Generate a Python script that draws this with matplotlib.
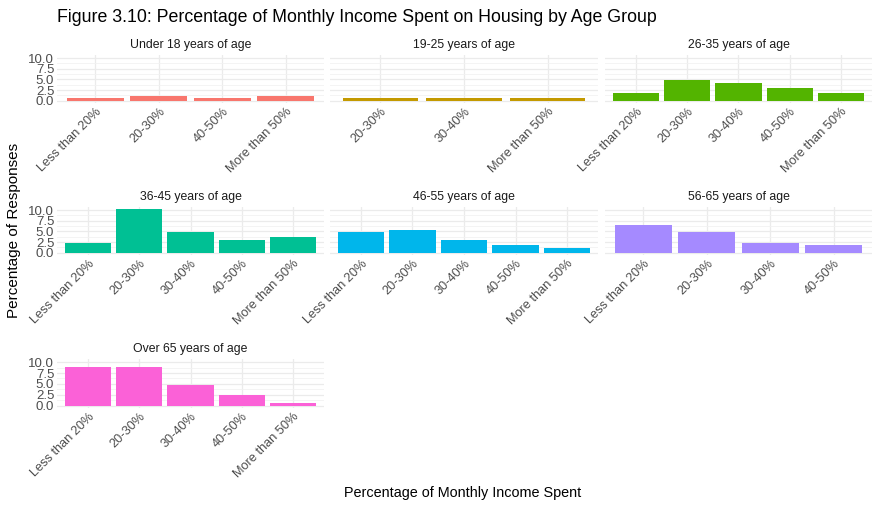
import matplotlib
matplotlib.use("Agg")
import matplotlib.pyplot as plt
import numpy as np

plt.rcParams['font.family'] = ['Liberation Sans', 'DejaVu Sans']

groups = ['Under 18 years of age', '19-25 years of age', '26-35 years of age',
          '36-45 years of age', '46-55 years of age', '56-65 years of age',
          'Over 65 years of age']
categories = [
    ['Less than 20%', '20-30%', '40-50%', 'More than 50%'],
    ['20-30%', '30-40%', 'More than 50%'],
    ['Less than 20%', '20-30%', '30-40%', '40-50%', 'More than 50%'],
    ['Less than 20%', '20-30%', '30-40%', '40-50%', 'More than 50%'],
    ['Less than 20%', '20-30%', '30-40%', '40-50%', 'More than 50%'],
    ['Less than 20%', '20-30%', '30-40%', '40-50%'],
    ['Less than 20%', '20-30%', '30-40%', '40-50%', 'More than 50%'],
]
values = [
    [0.6, 1.2, 0.6, 1.2],
    [0.6, 0.6, 0.6],
    [1.8, 4.8, 4.2, 3.0, 1.8],
    [2.4, 10.2, 4.8, 3.0, 3.6],
    [4.8, 5.4, 3.0, 1.8, 1.2],
    [6.5, 4.8, 2.4, 1.8],
    [8.8, 8.8, 4.8, 2.5, 0.7],
]
colors = ['#F8766D', '#C49A00', '#53B400', '#00C094', '#00B6EB', '#A58AFF', '#FB61D7']

W, H = 879, 508
fig = plt.figure(figsize=(W / 100, H / 100), dpi=100)

# panel boxes in pixels: (left, right), (top, bottom)
cols = [(57, 324), (330, 598), (605, 872)]
rows = [(55, 103), (207, 255), (359, 408)]

ymax = max(max(v) for v in values)
ylim = (-0.05 * ymax, ymax * 1.05)

for i, (g, cats, vals, c) in enumerate(zip(groups, categories, values, colors)):
    r, k = divmod(i, 3)
    (x0, x1), (y0, y1) = cols[k], rows[r]
    ax = fig.add_axes([x0 / W, 1 - y1 / H, (x1 - x0) / W, (y1 - y0) / H])
    x = np.arange(len(cats))
    ax.bar(x, vals, width=0.9, color=c, zorder=2)
    ax.set_xlim(-0.6, len(cats) - 0.4)
    ax.set_ylim(*ylim)
    ax.set_yticks([0, 2.5, 5, 7.5, 10])
    ax.set_yticks([1.25, 3.75, 6.25, 8.75], minor=True)
    ax.set_xticks(x)
    ax.set_xticklabels(cats, rotation=45, ha='right', rotation_mode='anchor',
                       fontsize=9.2, color='#4D4D4D')
    if k == 0:
        ax.set_yticklabels(['0.0', '2.5', '5.0', '7.5', '10.0'], fontsize=9.5, color='#4D4D4D')
    else:
        ax.set_yticklabels([])
    ax.tick_params(which='both', length=0, pad=2)
    ax.grid(True, which='major', color='#EBEBEB', linewidth=0.9, zorder=0)
    ax.grid(True, which='minor', axis='y', color='#F2F2F2', linewidth=0.6, zorder=0)
    for s in ax.spines.values():
        s.set_visible(False)
    ax.set_facecolor('white')
    fig.text((x0 + x1) / 2 / W, 1 - (y0 - 10) / H, g, ha='center', va='center',
             fontsize=8.8, color='#1A1A1A')

fig.text(57 / W, 1 - 17 / H, 'Figure 3.10: Percentage of Monthly Income Spent on Housing by Age Group',
         ha='left', va='center', fontsize=12.8, color='black')
fig.text(14 / W, 1 - 230 / H, 'Percentage of Responses', rotation=90,
         ha='center', va='center', fontsize=11, color='black')
fig.text(463 / W, 1 - 493 / H, 'Percentage of Monthly Income Spent',
         ha='center', va='center', fontsize=10.4, color='black')

fig.savefig('out.png', dpi=100, facecolor='white')
